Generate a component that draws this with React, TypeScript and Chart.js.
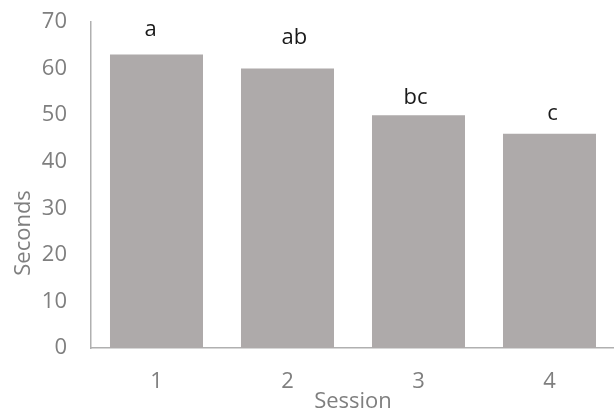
import React, { useEffect, useRef } from "react";
import { Chart, registerables } from "chart.js";

Chart.register(...registerables);

const categories = ["1", "2", "3", "4"];
const seconds = [63, 60, 50, 46];
const letters = ["a", "ab", "bc", "c"];
const letterLevels = [68.4, 66.6, 53.8, 50.4];
const letterShifts = [-0.045, 0.053, -0.023, 0.023];
const yTicks = [0, 10, 20, 30, 40, 50, 60, 70];
const yTitle = "Seconds";
const yTitleLevel = 24.7;
const xTitle = "Session";

const FONT = "'Open Sans', sans-serif";
const SIZE = 22;
const GRAY = "#7f7f7f";

export default function App() {
  const ref = useRef<HTMLCanvasElement>(null);

  useEffect(() => {
    document.body.style.margin = "0";
    const canvas = ref.current;
    if (!canvas) return;

    const annotate = {
      id: "annotate",
      afterDatasetsDraw(chart: any) {
        const { ctx, scales } = chart;
        const x = scales.x;
        const y = scales.y;
        ctx.save();
        ctx.font = `${SIZE}px ${FONT}`;
        ctx.fillStyle = "#1a1a1a";
        ctx.textAlign = "center";
        ctx.textBaseline = "middle";
        letters.forEach((t, i) => {
          ctx.fillText(t, x.getPixelForValue(i + letterShifts[i]), y.getPixelForValue(letterLevels[i]));
        });
        ctx.fillStyle = GRAY;
        ctx.translate(24, y.getPixelForValue(yTitleLevel));
        ctx.rotate(-Math.PI / 2);
        ctx.fillText(yTitle, 0, 0);
        ctx.restore();
      },
    };

    const chart = new Chart(canvas, {
      type: "bar",
      data: {
        labels: categories,
        datasets: [
          {
            data: seconds,
            backgroundColor: "#aeaaaa",
            borderWidth: 0,
            barPercentage: 0.71,
            categoryPercentage: 1,
          },
        ],
      },
      options: {
        responsive: false,
        animation: false,
        devicePixelRatio: 1,
        layout: { padding: { top: 22, right: 25, left: 0, bottom: 0 } },
        plugins: { legend: { display: false }, tooltip: { enabled: false } },
        scales: {
          x: {
            grid: { display: false, drawTicks: false },
            border: { display: true, color: "#b0b0b0", width: 1.5 },
            ticks: { color: GRAY, font: { family: FONT, size: SIZE }, padding: 21 },
            title: {
              display: true,
              text: xTitle,
              color: GRAY,
              font: { family: FONT, size: SIZE },
              padding: { top: 0, bottom: 0 },
            },
            afterFit: (s: any) => {
              s.height = 67;
            },
          },
          y: {
            min: 0,
            max: 70,
            grid: { display: false, drawTicks: false },
            border: { display: true, color: "#b0b0b0", width: 1.5 },
            afterBuildTicks: (s: any) => {
              s.ticks = yTicks.map((v) => ({ value: v }));
            },
            ticks: { color: GRAY, font: { family: FONT, size: SIZE }, padding: 24 },
            afterFit: (s: any) => {
              s.width = 91;
              s.paddingTop = 0;
              s.paddingBottom = 0;
            },
          },
        },
      },
      plugins: [annotate],
    });
    return () => chart.destroy();
  }, []);

  return (
    <div style={{ position: "fixed", left: 0, top: 0, width: 614, height: 412, overflow: "hidden", background: "#fff" }}>
      <canvas ref={ref} width={640} height={415} style={{ display: "block" }} />
    </div>
  );
}
